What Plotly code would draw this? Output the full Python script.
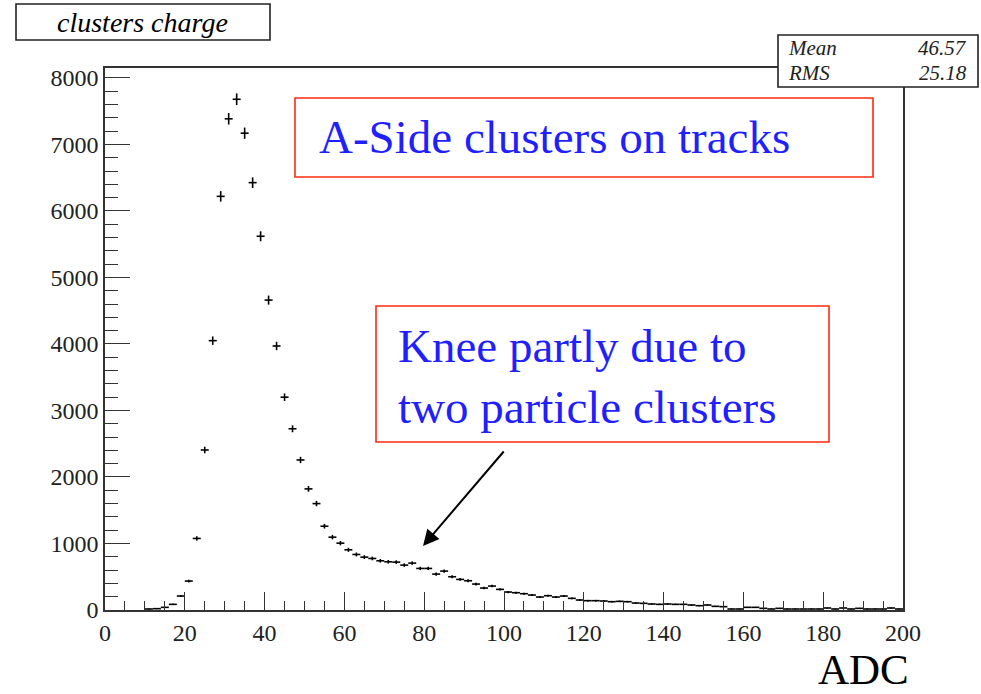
import numpy as np
import plotly.graph_objects as go

# ---- data (bin centres of 2-ADC-wide bins, counts) ----
adc_bins = list(range(11, 200, 2))
counts = [15, 20, 40, 85, 210, 435, 1076, 2406, 4050, 6220,
          7386, 7680, 7170, 6426, 5620, 4660, 3970, 3200, 2725, 2256,
          1821, 1600, 1260, 1095, 1005, 905, 835, 795, 775, 740,
          725, 720, 675, 705, 625, 625, 540, 585, 500, 460,
          440, 390, 330, 360, 310, 270, 260, 245, 225, 195,
          215, 195, 210, 175, 150, 140, 140, 135, 125, 130,
          125, 105, 100, 90, 85, 90, 85, 85, 75, 65,
          75, 55, 50, 15, 15, 40, 40, 25, 15, 25,
          15, 15, 15, 15, 15, 30, 15, 30, 15, 25,
          15, 15, 15, 30, 15]
bin_half_width = 1.0
x_ticks = [0, 20, 40, 60, 80, 100, 120, 140, 160, 180, 200]
y_ticks = [0, 1000, 2000, 3000, 4000, 5000, 6000, 7000, 8000]
stats_mean = "46.57"
stats_rms = "25.18"
title_text = "clusters charge"
note1 = "A-Side clusters on tracks"
note2 = "Knee partly due to<br>two particle clusters"
x_title = "ADC"

W, H = 981, 694
L, R, T, B = 105, 78, 68, 84
PW, PH = W - L - R, H - T - B


def px(xp):
    return (xp - L) / PW


def py(yp):
    return (H - B - yp) / PH


SERIF = "Liberation Serif"
errs = np.sqrt(np.array(counts, dtype=float))

fig = go.Figure()
fig.add_trace(go.Scatter(
    x=adc_bins, y=counts, mode="markers",
    marker=dict(size=1, color="black"),
    error_x=dict(type="constant", value=bin_half_width, width=0,
                 thickness=1.6, color="black"),
    error_y=dict(type="data", array=errs, width=0, thickness=1.6,
                 color="black"),
    showlegend=False, hoverinfo="x+y",
))

axis_common = dict(
    showline=True, linecolor="#333333", linewidth=1.6, mirror=True,
    ticks="inside", tickcolor="#333333", tickwidth=1.4,
    showgrid=False, zeroline=False,
    tickfont=dict(family=SERIF, size=24, color="#222222"),
)
fig.update_xaxes(range=[0, 200], tickvals=x_ticks, ticklen=18,
                 minor=dict(dtick=5, ticklen=9, ticks="inside",
                            tickcolor="#333333", tickwidth=1.4, showgrid=False),
                 **axis_common)
fig.update_yaxes(range=[0, 8150], tickvals=y_ticks, ticklen=25,
                 minor=dict(dtick=200, ticklen=13, ticks="inside",
                            tickcolor="#333333", tickwidth=1.4, showgrid=False),
                 **axis_common)

shapes = [
    # title box
    dict(type="rect", xref="paper", yref="paper", x0=px(16), x1=px(270),
         y0=py(40), y1=py(4), line=dict(color="#222222", width=1.6),
         fillcolor="white", layer="above"),
    # stats box
    dict(type="rect", xref="paper", yref="paper", x0=px(778), x1=px(978),
         y0=py(87), y1=py(35), line=dict(color="#222222", width=1.6),
         fillcolor="white", layer="above"),
    # red boxes
    dict(type="rect", xref="paper", yref="paper", x0=px(295), x1=px(873),
         y0=py(177), y1=py(98), line=dict(color="#ff2a10", width=1.6),
         fillcolor="rgba(0,0,0,0)", layer="above"),
    dict(type="rect", xref="paper", yref="paper", x0=px(376), x1=px(829),
         y0=py(442), y1=py(306), line=dict(color="#ff2a10", width=1.6),
         fillcolor="rgba(0,0,0,0)", layer="above"),
]

annotations = [
    dict(text="<i>" + title_text + "</i>", xref="paper", yref="paper",
         x=px(142), y=py(22), showarrow=False, xanchor="center", yanchor="middle",
         font=dict(family=SERIF, size=28, color="black")),
    dict(text="<i>Mean</i>", xref="paper", yref="paper", x=px(786), y=py(48),
         showarrow=False, xanchor="left", yanchor="middle",
         font=dict(family=SERIF, size=21, color="#222222")),
    dict(text="<i>" + stats_mean + "</i>", xref="paper", yref="paper", x=px(969), y=py(48),
         showarrow=False, xanchor="right", yanchor="middle",
         font=dict(family=SERIF, size=21, color="#222222")),
    dict(text="<i>RMS</i>", xref="paper", yref="paper", x=px(786), y=py(73),
         showarrow=False, xanchor="left", yanchor="middle",
         font=dict(family=SERIF, size=21, color="#222222")),
    dict(text="<i>" + stats_rms + "</i>", xref="paper", yref="paper", x=px(969), y=py(73),
         showarrow=False, xanchor="right", yanchor="middle",
         font=dict(family=SERIF, size=21, color="#222222")),
    dict(text=note1, xref="paper", yref="paper", x=px(317), y=py(137),
         showarrow=False, xanchor="left", yanchor="middle",
         font=dict(family=SERIF, size=47, color="#1f1fff")),
    dict(text=note2, xref="paper", yref="paper", x=px(396), y=py(376),
         showarrow=False, xanchor="left", yanchor="middle", align="left",
         font=dict(family=SERIF, size=47, color="#1f1fff")),
    dict(text=x_title, xref="paper", yref="paper", x=px(863), y=py(669),
         showarrow=False, xanchor="center", yanchor="middle",
         font=dict(family=SERIF, size=43, color="black")),
    # arrow
    dict(text="", xref="paper", yref="paper", x=px(423), y=py(546),
         axref="pixel", ayref="pixel", ax=82, ay=-96,
         showarrow=True, arrowhead=2, arrowsize=1.6, arrowwidth=2,
         arrowcolor="black"),
]

fig.update_layout(
    width=W, height=H,
    margin=dict(l=L, r=R, t=T, b=B, pad=0),
    paper_bgcolor="white", plot_bgcolor="white",
    shapes=shapes, annotations=annotations,
    font=dict(family=SERIF),
)

fig.write_html("out.html")
